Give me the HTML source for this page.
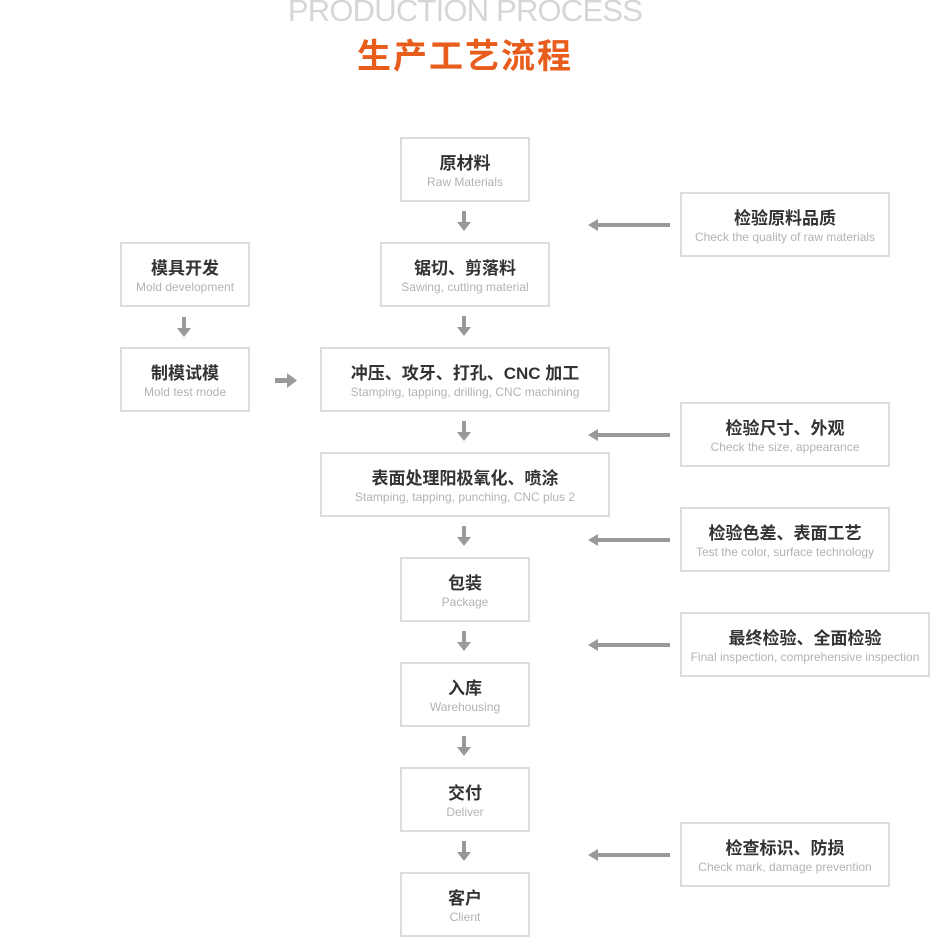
<!DOCTYPE html>
<html><head><meta charset="utf-8"><style>
body{margin:0;width:930px;height:937px;background:#fff;position:relative;overflow:hidden;font-family:"Liberation Sans","Noto Sans CJK SC",sans-serif}
.b{position:absolute;box-sizing:border-box;border:2px solid #dcdcdc;text-align:center}
.b .c{font-weight:bold;font-size:17px;color:#333;margin-top:14px;line-height:22px}
.b .e{font-size:12px;color:#b3b3b3;line-height:15px}
.t1{position:absolute;left:270px;width:390px;top:-7px;text-align:center;font-size:31px;color:#d6d6d6;letter-spacing:-0.8px;font-weight:300}
.t2{position:absolute;left:330px;width:270px;top:29px;text-align:center;font-size:34px;font-weight:bold;color:#e85d1c;letter-spacing:2px;font-family:"Noto Sans CJK SC",sans-serif}
svg{position:absolute;left:0;top:0}
</style></head><body>
<div class="t1">PRODUCTION PROCESS</div>
<div class="t2">生产工艺流程</div>

<div class="b" style="left:400px;top:137px;width:130px;height:65px"><div class="c">原材料</div><div class="e">Raw Materials</div></div>
<div class="b" style="left:380px;top:242px;width:170px;height:65px"><div class="c">锯切、剪落料</div><div class="e">Sawing, cutting material</div></div>
<div class="b" style="left:320px;top:347px;width:290px;height:65px"><div class="c">冲压、攻牙、打孔、CNC 加工</div><div class="e">Stamping, tapping, drilling, CNC machining</div></div>
<div class="b" style="left:320px;top:452px;width:290px;height:65px"><div class="c">表面处理阳极氧化、喷涂</div><div class="e">Stamping, tapping, punching, CNC plus 2</div></div>
<div class="b" style="left:400px;top:557px;width:130px;height:65px"><div class="c">包装</div><div class="e">Package</div></div>
<div class="b" style="left:400px;top:662px;width:130px;height:65px"><div class="c">入库</div><div class="e">Warehousing</div></div>
<div class="b" style="left:400px;top:767px;width:130px;height:65px"><div class="c">交付</div><div class="e">Deliver</div></div>
<div class="b" style="left:400px;top:872px;width:130px;height:65px"><div class="c">客户</div><div class="e">Client</div></div>

<div class="b" style="left:120px;top:242px;width:130px;height:65px"><div class="c">模具开发</div><div class="e">Mold development</div></div>
<div class="b" style="left:120px;top:347px;width:130px;height:65px"><div class="c">制模试模</div><div class="e">Mold test mode</div></div>

<div class="b" style="left:680px;top:192px;width:210px;height:65px"><div class="c">检验原料品质</div><div class="e">Check the quality of raw materials</div></div>
<div class="b" style="left:680px;top:402px;width:210px;height:65px"><div class="c">检验尺寸、外观</div><div class="e">Check the size, appearance</div></div>
<div class="b" style="left:680px;top:507px;width:210px;height:65px"><div class="c">检验色差、表面工艺</div><div class="e">Test the color, surface technology</div></div>
<div class="b" style="left:680px;top:612px;width:250px;height:65px"><div class="c">最终检验、全面检验</div><div class="e">Final inspection, comprehensive inspection</div></div>
<div class="b" style="left:680px;top:822px;width:210px;height:65px"><div class="c">检查标识、防损</div><div class="e">Check mark, damage prevention</div></div>

<svg width="930" height="937">
<defs>
<g id="d"><rect x="-2" y="0" width="4" height="13" fill="#999"/><polygon points="-7,11 7,11 0,20" fill="#999"/></g>
<g id="l"><rect x="8" y="-2" width="74" height="4" fill="#999"/><polygon points="0,0 10,-6 10,6" fill="#999"/></g>
</defs>
<use href="#d" x="464" y="211"/>
<use href="#d" x="464" y="316"/>
<use href="#d" x="464" y="421"/>
<use href="#d" x="464" y="526"/>
<use href="#d" x="464" y="631"/>
<use href="#d" x="464" y="736"/>
<use href="#d" x="464" y="841"/>
<use href="#d" x="184" y="317"/>
<use href="#l" x="588" y="225"/>
<use href="#l" x="588" y="435"/>
<use href="#l" x="588" y="540"/>
<use href="#l" x="588" y="645"/>
<use href="#l" x="588" y="855"/>
<rect x="275" y="378" width="14" height="5" fill="#999"/><polygon points="287,373 297,380.5 287,388" fill="#999"/>
</svg>
</body></html>
